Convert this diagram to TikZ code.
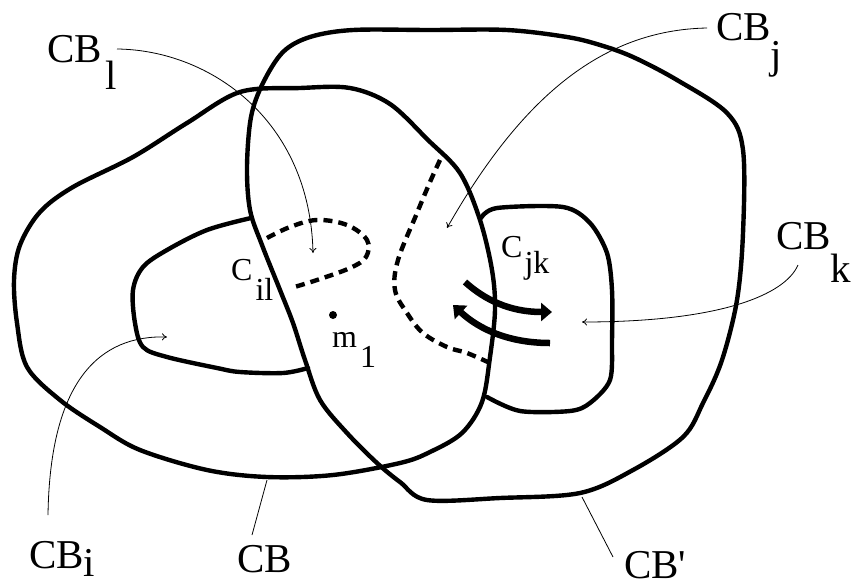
\documentclass[tikz,border=0pt]{standalone}
\usepackage{fontspec}
\setmainfont{Liberation Serif}
\usetikzlibrary{arrows.meta}
\begin{document}
\begin{tikzpicture}[x=1pt,y=-1pt,
  region/.style={line width=4.4pt, line join=round, line cap=round},
  dashedregion/.style={line width=4.4pt, dash pattern=on 9pt off 6pt},
  conn/.style={line width=0.8pt},
  connarrow/.style={line width=0.8pt, -{To[length=5pt,width=7pt]}},
  flow/.style={line width=6.5pt, -{Triangle[length=11pt,width=18pt]}},
  lbl/.style={anchor=base west, inner sep=0pt, font=\fontsize{41}{41}\selectfont},
  slbl/.style={anchor=base west, inner sep=0pt, font=\fontsize{32}{32}\selectfont}
]
\useasboundingbox (0,0) rectangle (856,587);

% CB (large left region)
\draw[region] plot[smooth cycle, tension=0.55] coordinates {
 (240,92) (300,88) (350,88) (390,104) (428,140) (460,173) (480,220) (492,270)
 (495,310) (490,357) (482,402) (462,433) (430,452) (400,463) (333,475) (267,477)
 (207,470) (140,450) (100,427) (60,400) (27,367) (17,323) (14,280) (20,245)
 (40,212) (73,187) (133,157) (187,123)};

% CB' (large right region)
\draw[region] plot[smooth cycle, tension=0.55] coordinates {
 (353,30) (430,30) (507,30) (567,37) (600,45) (633,57) (677,80) (727,113)
 (743,150) (743,233) (737,300) (722,360) (703,403) (683,437) (633,470)
 (580,493) (500,498) (427,500) (400,482) (377,463) (347,433) (320,400)
 (305,360) (293,323) (280,290) (262,245) (250,210) (247,167) (251,117) (263,83)
 (283,52) (310,37)};

% CB_i (inner left region)
\draw[region] plot[smooth, tension=0.55] coordinates {
 (251,218) (207,230) (167,250) (143,267) (133,290) (135,323) (143,347)
 (167,357) (217,368) (240,372) (283,373) (308,368)};

% CB_k (right region)
\draw[region] plot[smooth, tension=0.5] coordinates {
 (481,218) (497,208) (563,207) (590,223) (607,253) (612,290) (612,340)
 (610,380) (590,403) (570,411) (520,411) (487,397)};

% CB_l (dashed)
\draw[dashedregion] plot[smooth, tension=0.6] coordinates {
 (267,238) (290,227) (317,220) (347,225) (367,240) (366,257) (350,268)
 (317,280) (291,288)};

% CB_j (dashed)
\draw[dashedregion] plot[smooth, tension=0.6] coordinates {
 (440,160) (430,182) (417,213) (398,260) (395,290) (407,313) (423,333)
 (447,347) (467,353) (490,363)};

% thick flow arrows
\coordinate (fa1) at (465,282);
\coordinate (fa2) at (552,312);
\coordinate (fb1) at (550,343);
\coordinate (fb2) at (453,305);
\draw[flow] (fa1) .. controls (485,300) and (510,312) .. (fa2);
\draw[flow] (fb1) .. controls (510,343) and (480,330) .. (fb2);

% point m1
\fill (333,315) circle (4pt);

% labels
\node[lbl] (cbl) at (47,62) {CB\hspace{4pt}\raisebox{-27pt}{l}};
\node[lbl] (cbj) at (716,40) {CB\raisebox{-28pt}{j}};
\node[lbl] (cbk) at (776,249) {CB\raisebox{-33pt}{k}};
\node[lbl] (cbi) at (29,568) {CB\raisebox{-8pt}{i}};
\node[lbl] (cb) at (237,572) {CB};
\node[lbl] (cbp) at (624,578) {CB\textquotesingle};
\node[slbl] (cil) at (231,280) {C\hspace{3pt}\raisebox{-20pt}{il}};
\node[slbl] (cjk) at (501,257) {C\hspace{2pt}\raisebox{-16pt}{jk}};
\node[slbl] (m1) at (332,347) {m\hspace{3pt}\raisebox{-20pt}{1}};

% connector end points
\coordinate (cbls) at (117,49);
\coordinate (cble) at (313,253);
\coordinate (cbjs) at (707,28);
\coordinate (cbje) at (447,228);
\coordinate (cbks) at (798,265);
\coordinate (cbke) at (582,322);
\coordinate (cbis) at (48,515);
\coordinate (cbie) at (167,337);
\coordinate (cbs) at (252,535);
\coordinate (cbe) at (267,480);
\coordinate (cbps) at (613,557);
\coordinate (cbpe) at (582,497);

\draw[connarrow] (cbls) .. controls (210,50) and (310,120) .. (cble);
\draw[connarrow] (cbjs) .. controls (600,30) and (520,100) .. (cbje);
\draw[connarrow] (cbks) .. controls (785,295) and (720,322) .. (cbke);
\draw[connarrow] (cbis) .. controls (50,380) and (100,335) .. (cbie);
\draw[conn] (cbs) -- (cbe);
\draw[conn] (cbps) -- (cbpe);
\end{tikzpicture}
\end{document}
